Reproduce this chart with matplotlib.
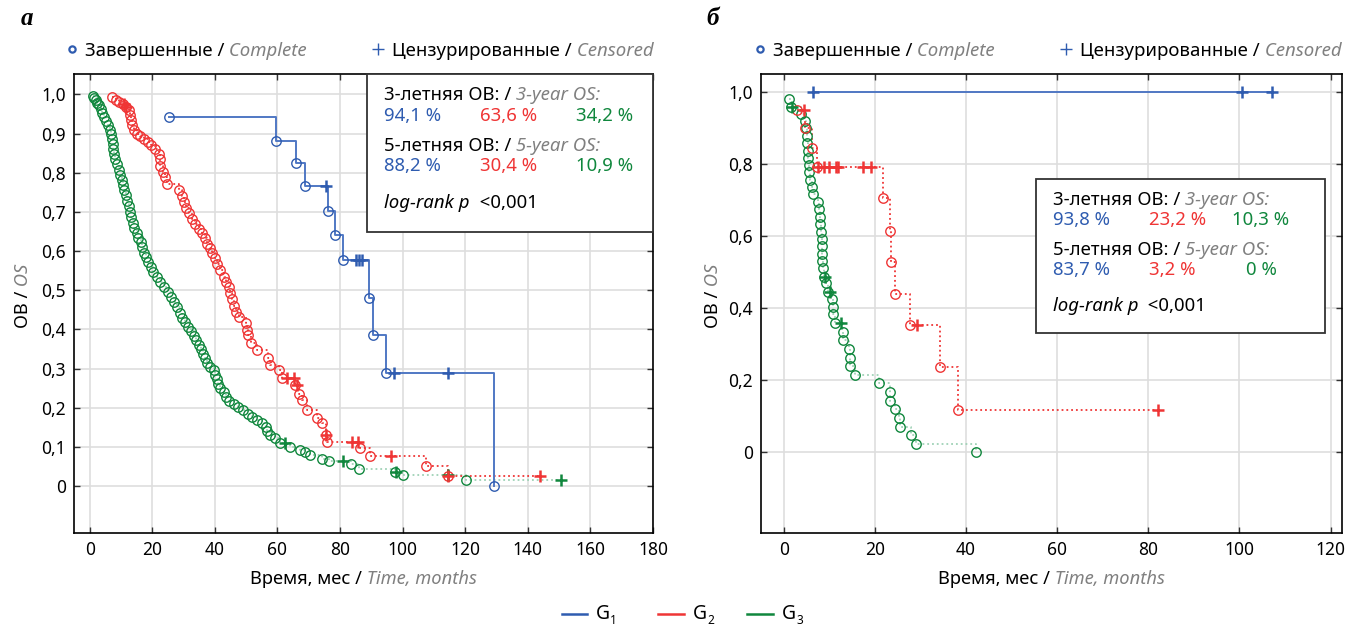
import numpy as np
import matplotlib
matplotlib.use("Agg")
import matplotlib.pyplot as plt
from matplotlib.lines import Line2D
from matplotlib.patches import Rectangle

plt.rcParams['font.family'] = ['Noto Sans', 'DejaVu Sans']

# ---- panel а : events (time, survival) and censored times ----
a_g1_t = [25.3, 59.6, 65.8, 68.8, 76.0, 78.3, 80.8, 89.2, 90.5, 94.7, 129.2]
a_g1_s = [0.941, 0.882, 0.824, 0.765, 0.702, 0.640, 0.576, 0.480, 0.385, 0.289, 0.0]
a_g1_cens = [75.6, 85.2, 86.0, 87.1, 97.1, 114.4]

a_g2_t = [7.2, 8.5, 9.4, 10.5, 11.5, 12.5, 12.8, 13.1, 13.5, 14.1, 15.2, 16.2, 17.3, 18.5,
          19.5, 20.8, 22.1, 22.4, 22.6, 23.4, 24.2, 24.8, 28.7, 29.4, 30.1, 30.9, 31.7, 32.8,
          33.8, 34.8, 35.9, 36.7, 37.5, 38.3, 39.1, 39.9, 40.7, 41.8, 42.8, 43.6, 44.4, 45.0,
          45.5, 46.0, 46.8, 47.6, 49.8, 50.3, 50.6, 51.4, 53.5, 56.9, 57.7, 60.4, 61.5, 65.7,
          66.8, 67.8, 69.4, 72.6, 74.2, 75.5, 75.8, 86.4, 89.6, 107.4, 114.4]
a_g2_s = [0.992, 0.985, 0.980, 0.975, 0.968, 0.959, 0.948, 0.935, 0.922, 0.910, 0.900, 0.893,
          0.887, 0.878, 0.870, 0.860, 0.849, 0.835, 0.818, 0.803, 0.789, 0.770, 0.755, 0.740,
          0.725, 0.710, 0.697, 0.683, 0.670, 0.657, 0.645, 0.632, 0.619, 0.607, 0.594, 0.581,
          0.568, 0.551, 0.534, 0.521, 0.508, 0.492, 0.478, 0.460, 0.445, 0.432, 0.415, 0.398,
          0.385, 0.364, 0.347, 0.328, 0.309, 0.296, 0.275, 0.258, 0.236, 0.219, 0.194, 0.173,
          0.160, 0.130, 0.113, 0.096, 0.077, 0.052, 0.026]
a_g2_cens = [10.9, 11.6, 63.0, 65.2, 66.4, 75.6, 83.8, 85.9, 96.3, 114.6, 143.9]

a_g3_t = [1.0, 1.5, 2.0, 2.5, 3.0, 3.5, 4.0, 4.6, 5.2, 6.0, 6.5, 6.8, 7.2, 7.4, 7.6, 7.8, 8.0,
          8.6, 9.4, 9.8, 10.2, 10.6, 11.0, 11.5, 12.0, 12.5, 12.9, 13.3, 13.7, 14.3, 15.0, 15.6,
          16.3, 16.8, 17.4, 18.0, 18.7, 19.5, 20.3, 21.5, 22.6, 23.8, 25.0, 26.0, 27.0, 28.0,
          28.8, 29.6, 30.5, 31.5, 32.3, 33.2, 34.0, 34.8, 35.6, 36.3, 37.0, 37.6, 38.5, 39.6,
          40.2, 40.6, 41.0, 41.8, 42.8, 43.6, 44.5, 46.0, 47.5, 49.0, 50.5, 52.0, 53.5, 55.0,
          56.2, 56.7, 57.5, 59.3, 60.9, 64.1, 67.3, 68.9, 70.5, 74.2, 76.6, 83.6, 86.1, 97.6,
          100.1, 120.3]
a_g3_s = [0.995, 0.990, 0.985, 0.978, 0.972, 0.962, 0.952, 0.942, 0.932, 0.922, 0.910, 0.898,
          0.885, 0.872, 0.860, 0.848, 0.835, 0.822, 0.808, 0.795, 0.782, 0.768, 0.755, 0.742,
          0.728, 0.714, 0.700, 0.686, 0.672, 0.660, 0.647, 0.634, 0.622, 0.610, 0.596, 0.584,
          0.572, 0.558, 0.546, 0.534, 0.520, 0.508, 0.495, 0.482, 0.470, 0.456, 0.442, 0.430,
          0.418, 0.406, 0.396, 0.384, 0.372, 0.360, 0.350, 0.338, 0.326, 0.315, 0.305, 0.296,
          0.284, 0.272, 0.260, 0.250, 0.240, 0.228, 0.218, 0.210, 0.202, 0.195, 0.184, 0.176,
          0.168, 0.160, 0.150, 0.140, 0.131, 0.122, 0.110, 0.100, 0.092, 0.088, 0.080, 0.068,
          0.064, 0.056, 0.043, 0.037, 0.028, 0.015]
a_g3_cens = [62.5, 80.8, 97.9, 114.4, 150.6]

# ---- panel б ----
b_g1_t = []
b_g1_s = []
b_g1_cens = [6.4, 100.6, 107.2]

b_g2_t = [3.0, 4.6, 6.3, 7.2, 21.8, 23.3, 23.5, 24.3, 27.7, 34.3, 38.3]
b_g2_s = [0.950, 0.899, 0.845, 0.793, 0.705, 0.615, 0.527, 0.439, 0.352, 0.235, 0.118]
b_g2_cens = [4.5, 7.4, 8.8, 9.9, 11.4, 12.0, 17.4, 19.1, 29.2, 82.2]

b_g3_t = [1.2, 1.5, 3.7, 4.6, 4.8, 5.0, 5.2, 5.3, 5.4, 5.6, 5.6, 5.8, 6.3, 6.5, 7.4, 7.7, 7.9,
          8.0, 8.1, 8.3, 8.3, 8.3, 8.4, 8.5, 8.8, 9.3, 9.7, 10.5, 10.7, 10.9, 11.3, 13.0, 13.1,
          14.3, 14.5, 14.6, 15.6, 20.8, 23.3, 23.4, 24.3, 25.2, 25.4, 28.0, 29.1, 42.2]
b_g3_s = [0.980, 0.959, 0.938, 0.919, 0.899, 0.879, 0.857, 0.837, 0.818, 0.797, 0.777, 0.756,
          0.736, 0.716, 0.695, 0.674, 0.654, 0.633, 0.612, 0.592, 0.571, 0.551, 0.531, 0.510,
          0.487, 0.469, 0.445, 0.425, 0.404, 0.382, 0.358, 0.334, 0.310, 0.285, 0.261, 0.238,
          0.214, 0.191, 0.167, 0.143, 0.119, 0.094, 0.070, 0.047, 0.023, 0.0]
b_g3_cens = [1.9, 9.1, 10.2, 12.5]

a_os3 = ['94,1 %', '63,6 %', '34,2 %']
a_os5 = ['88,2 %', '30,4 %', '10,9 %']
b_os3 = ['93,8 %', '23,2 %', '10,3 %']
b_os5 = ['83,7 %', '3,2 %', '0 %']

a_xticks = [0, 20, 40, 60, 80, 100, 120, 140, 160, 180]
a_yticks = [0, 0.1, 0.2, 0.3, 0.4, 0.5, 0.6, 0.7, 0.8, 0.9, 1.0]
a_ylabels = ['0', '0,1', '0,2', '0,3', '0,4', '0,5', '0,6', '0,7', '0,8', '0,9', '1,0']
b_xticks = [0, 20, 40, 60, 80, 100, 120]
b_yticks = [0, 0.2, 0.4, 0.6, 0.8, 1.0]
b_ylabels = ['0', '0,2', '0,4', '0,6', '0,8', '1,0']

groups = ['G', 'G', 'G']
group_sub = ['1', '2', '3']

BLUE = '#2f5cb0'
BLUE_LN = '#5078c4'
RED = '#ef3535'
GREEN = '#10873d'
GREEN_LN = '#9fd2b6'
GRAY = '#808080'

W, H = 1353, 627
fig = plt.figure(figsize=(W / 100, H / 100), dpi=100)


def ax_at(l, t, r, b):
    return fig.add_axes([l / W, 1 - b / H, (r - l) / W, (b - t) / H])


def km(ax, t, s, cens, mc, lc, ls, lw):
    t = np.asarray(t, float)
    s = np.asarray(s, float)
    cens = np.asarray(cens, float)
    # survival level at each censored time = last event level before it
    idx = np.searchsorted(t, cens, side='right') - 1
    cs = np.where(idx >= 0, s[np.clip(idx, 0, None)] if len(s) else 1.0, 1.0)
    xs = np.concatenate([t, cens])
    ys = np.concatenate([s, cs])
    o = np.argsort(xs, kind='stable')
    ax.plot(xs[o], ys[o], drawstyle='steps-post', color=lc, ls=ls, lw=lw, zorder=2)
    if len(t):
        ax.plot(t, s, 'o', ms=6.8, mfc='none', mec=mc, mew=1.0, zorder=3)
    ax.plot(cens, cs, '+', ms=8.5, mec=mc, mew=1.8, zorder=4)


def style(ax, xlim, ylim, xt, yt, yl):
    ax.set_xlim(*xlim)
    ax.set_ylim(*ylim)
    ax.set_xticks(xt)
    ax.set_yticks(yt)
    ax.set_yticklabels(yl)
    ax.grid(color='#dedede', lw=1.2)
    ax.set_axisbelow(True)
    ax.tick_params(direction='in', top=True, right=True, length=4, width=1,
                   color='#333333', labelsize=12.5, pad=6)
    for sp in ax.spines.values():
        sp.set_linewidth(1.2)


def put(parts, x, y, size, center=False, vertical=False):
    r = fig.canvas.get_renderer()
    objs = [fig.text(0, 0, s, fontsize=size, va='baseline', ha='left',
                     rotation=90 if vertical else 0, rotation_mode='anchor', **kw)
            for s, kw in parts]
    sizes = []
    for t in objs:
        bb = t.get_window_extent(r)
        sizes.append(bb.height if vertical else bb.width)
    total = sum(sizes)
    if vertical:
        pos = y + (total / 2 if center else 0)
        for t, d in zip(objs, sizes):
            t.set_position((x / W, 1 - pos / H))
            pos -= d
    else:
        pos = x - (total / 2 if center else 0)
        for t, d in zip(objs, sizes):
            t.set_position((pos / W, 1 - y / H))
            pos += d
    return pos


ITAL = dict(style='italic', color=GRAY)

# panel а
ax1 = ax_at(74, 74, 653, 533)
km(ax1, a_g3_t, a_g3_s, a_g3_cens, GREEN, GREEN_LN, ':', 1.3)
km(ax1, a_g2_t, a_g2_s, a_g2_cens, RED, RED, ':', 1.3)
km(ax1, a_g1_t, a_g1_s, a_g1_cens, BLUE, BLUE_LN, '-', 1.4)
style(ax1, (-5, 180), (-0.12, 1.052), a_xticks, a_yticks, a_ylabels)

# panel б
ax2 = ax_at(761, 74, 1342, 533)
km(ax2, b_g3_t, b_g3_s, b_g3_cens, GREEN, GREEN_LN, ':', 1.3)
km(ax2, b_g2_t, b_g2_s, b_g2_cens, RED, RED, ':', 1.3)
km(ax2, b_g1_t, b_g1_s, b_g1_cens, BLUE, BLUE_LN, '-', 1.4)
style(ax2, (-5, 122.5), (-0.225, 1.05), b_xticks, b_yticks, b_ylabels)

# panel letters
fig.text(21 / W, 1 - 25 / H, 'а', family='Liberation Serif', weight='bold',
         style='italic', fontsize=18, va='baseline')
fig.text(706 / W, 1 - 25 / H, 'б', family='Liberation Serif', weight='bold',
         style='italic', fontsize=18, va='baseline')

# top legends
for ox in (0, 688):
    fig.add_artist(Line2D([(72 + ox) / W], [1 - 49 / H], marker='o', ms=4.5, mfc='none',
                          mec=BLUE, mew=1.6, transform=fig.transFigure))
    put([('Завершенные /', {}), (' Complete', ITAL)], 85 + ox, 56, 13.4)
    fig.add_artist(Line2D([(378 + ox) / W], [1 - 49 / H], marker='+', ms=9,
                          mec=BLUE, mew=1.0, transform=fig.transFigure))
    put([('Цензурированные /', {}), (' Censored', ITAL)], 392 + ox, 56, 13.4)

# stats boxes
cols = [BLUE, RED, GREEN]
for (l, t, r, b), x0, xs, ys, os3, os5 in [
        ((367, 74, 653, 232), 384, (384, 480, 576), (100, 121, 151, 171, 208), a_os3, a_os5),
        ((1036, 179, 1325, 333), 1053, (1053, 1149, 1232), (205, 225, 255, 275, 311), b_os3, b_os5)]:
    fig.add_artist(Rectangle((l / W, 1 - b / H), (r - l) / W, (b - t) / H,
                             transform=fig.transFigure, fc='white', ec='#333333', lw=1.3))
    put([('3-летняя ОВ: /', {}), (' 3-year OS:', ITAL)], x0, ys[0], 13.4)
    for xx, s, c in zip(xs, os3, cols):
        put([(s, dict(color=c))], xx, ys[1], 13.4)
    put([('5-летняя ОВ: /', {}), (' 5-year OS:', ITAL)], x0, ys[2], 13.4)
    for xx, s, c in zip(xs, os5, cols):
        if s == '0 %':
            xx += 14
        put([(s, dict(color=c))], xx, ys[3], 13.4)
    put([('log-rank p', dict(style='italic')), ('  <0,001', {})], x0, ys[4], 13.4)

# axis labels
for cx, yx in ((363.5, 22), (1051.5, 712)):
    put([('Время, мес /', {}), (' Time, months', ITAL)], cx, 584, 13.2, center=True)
    put([('ОВ /', {}), (' OS', ITAL)], yx + 6, 296, 13.2, center=True, vertical=True)

# bottom legend
for (x1, x2, xt), c, g, sub in zip([(562, 587, 596), (658, 684, 693), (747, 773, 782)],
                                   [BLUE, RED, GREEN], groups, group_sub):
    fig.add_artist(Line2D([x1 / W, x2 / W], [1 - 614 / H] * 2, color=c, lw=1.8,
                          transform=fig.transFigure))
    end = put([(g, {})], xt, 619, 14)
    put([(sub, {})], end, 624, 8.5)

fig.savefig('out.png', dpi=100)
